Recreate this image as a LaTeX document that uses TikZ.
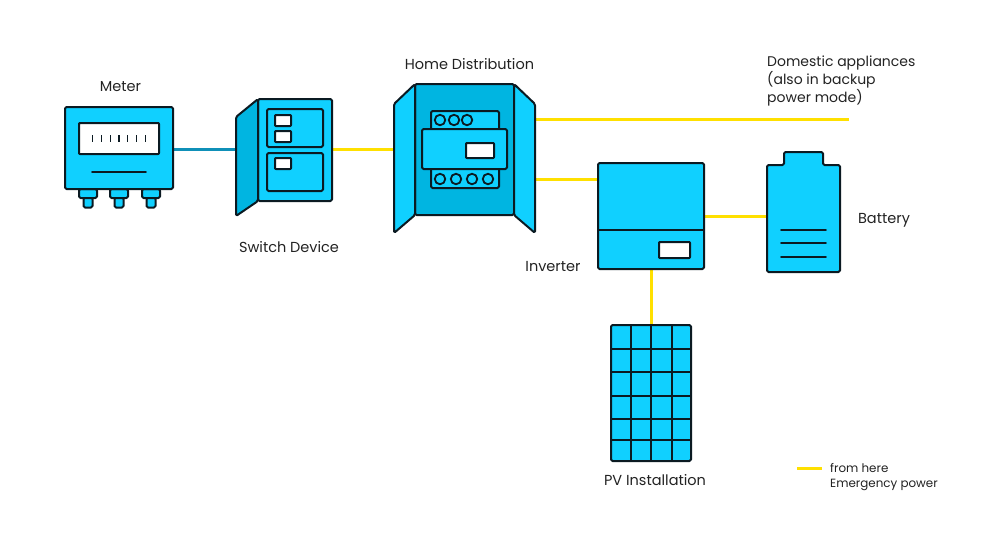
\documentclass[tikz,border=0pt]{standalone}
\usepackage{fontspec}
\setmainfont{Poppins}
\usetikzlibrary{backgrounds}
\definecolor{cy}{HTML}{10D0FF}
\definecolor{cydark}{HTML}{00B5E1}
\definecolor{wire}{HTML}{FFE000}
\definecolor{wireblue}{HTML}{0F90B8}
\definecolor{ink}{HTML}{0B1A22}
\definecolor{txt}{HTML}{222222}
\tikzset{
  shapeline/.style={draw=ink,line width=2pt,line join=round,rounded corners=1.5pt},
  box/.style={shapeline,fill=cy,rectangle,inner sep=0pt,outer sep=0pt},
  darkbox/.style={box,fill=cydark},
  whitebox/.style={box,fill=white,rounded corners=0.8pt},
  door/.style={shapeline,fill=cy},
  stroke/.style={draw=ink,line width=1.6pt,line cap=round},
  knob/.style={draw=ink,line width=1.8pt,fill=cy,circle,inner sep=0pt,outer sep=0pt,minimum size=10.5pt},
  yellowwire/.style={draw=wire,line width=3pt},
  bluewire/.style={draw=wireblue,line width=3pt},
  label/.style={text=txt,font=\fontsize{14.5}{18}\selectfont,inner sep=0pt,align=left},
  domlabel/.style={label,font=\fontsize{14}{18}\selectfont},
  small/.style={text=txt,font=\fontsize{11.9}{15}\selectfont,inner sep=0pt,align=left},
  wh/.style 2 args={minimum width=#1pt,minimum height=#2pt}
}
\begin{document}
\begin{tikzpicture}[x=1pt,y=-1pt]
\useasboundingbox (0,0) rectangle (1000,542);
% Meter
\foreach \c/\n in {88/a,119/b,151/c}{
  \node[box,wh={9}{10}] (footl\n) at (\c,202.5) {};
  \node[box,wh={18}{9}] (footu\n) at (\c,193.5) {};
}
\node[box,wh={108}{82}] (meter) at (119,148) {};
\node[whitebox,wh={80}{31}] (meterwin) at (119,138.5) {};
\foreach \x in {92.3,101.3,110.3,119,127.7,136.7,145.7}
  \draw[stroke,line width=1.2pt,line cap=butt] (\x,135) -- (\x,142);
\draw[stroke] (92,172) -- (146,172);
% Switch device
\node[box,wh={74}{102}] (switch) at (295,150) {};
\coordinate (sd1) at (258,99);
\coordinate (sd2) at (236,117);
\coordinate (sd3) at (236,216);
\coordinate (sd4) at (258,201);
\draw[door,fill=cydark] (sd1) -- (sd2) -- (sd3) -- (sd4) -- cycle;
\node[box,wh={56}{38}] (swup) at (295,128) {};
\node[box,wh={56}{38}] (swlow) at (295,172) {};
\node[whitebox,wh={16}{11}] (sw1) at (283,120.5) {};
\node[whitebox,wh={16}{11}] (sw2) at (283,136.5) {};
\node[whitebox,wh={16}{11}] (sw3) at (283,163.5) {};
% Home distribution
\node[darkbox,wh={99}{131}] (home) at (464.5,149.5) {};
\coordinate (hl1) at (415,84);
\coordinate (hl2) at (394,104);
\coordinate (hl3) at (394,233);
\coordinate (hl4) at (415,215);
\coordinate (hr1) at (514,84);
\coordinate (hr2) at (535,104);
\coordinate (hr3) at (535,233);
\coordinate (hr4) at (514,215);
\draw[door] (hl1) -- (hl2) -- (hl3) -- (hl4) -- cycle;
\draw[door] (hr1) -- (hr2) -- (hr3) -- (hr4) -- cycle;
\node[box,wh={68}{77}] (modback) at (465,149.5) {};
\node[box,wh={85}{40}] (modmid) at (464.5,149) {};
\node[whitebox,wh={28}{15}] (modwin) at (480,150.5) {};
\foreach \x/\n in {440/a,454/b,467/c}
  \node[knob] (kt\n) at (\x,120) {};
\foreach \x/\n in {440/a,456/b,472/c,488/d}
  \node[knob] (kb\n) at (\x,179) {};
% Inverter
\node[box,wh={106}{106}] (inverter) at (651,216) {};
\coordinate (invl) at (598,230);
\coordinate (invr) at (704,230);
\draw[stroke,line width=1.8pt,line cap=butt] (invl) -- (invr);
\node[whitebox,wh={31}{16}] (invwin) at (674.5,250) {};
% Battery
\coordinate (battwest) at (767,216);
\draw[shapeline,fill=cy] (767,165) -- (784,165) -- (784,152) -- (823,152) -- (823,165) -- (840,165) -- (840,272) -- (767,272) -- cycle;
\foreach \y in {230,243,257}
  \draw[stroke] (781,\y) -- (826,\y);
% PV
\node[box,wh={80}{136}] (pv) at (651,393) {};
\foreach \x in {631,651,672}
  \draw[stroke,line width=1.8pt,line cap=butt] (\x,325) -- (\x,461);
\foreach \y in {349,372,396,419,440}
  \draw[stroke,line width=1.8pt,line cap=butt] (611,\y) -- (691,\y);
% Connectors
\coordinate (appl) at (849,119);
\coordinate (legA) at (797,468);
\coordinate (legB) at (822,468);
\begin{scope}[on background layer]
\draw[bluewire] (meter.east |- 0,149) -- (sd2 |- 0,149);
\draw[yellowwire] (switch.east |- 0,149) -- (hl2 |- 0,149);
\draw[yellowwire] (hr2 |- appl) -- (appl);
\draw[yellowwire] (hr2 |- 0,179) -- (inverter.west |- 0,179);
\draw[yellowwire] (inverter.east |- battwest) -- (battwest);
\draw[yellowwire] (inverter.south) -- (pv.north);
\end{scope}
\draw[yellowwire] (legA) -- (legB);
% Labels
\node[label] (tmeter) at (120.5,87) {Meter};
\node[label] (tswitch) at (289,247) {Switch Device};
\node[label] (thome) at (469.5,64) {Home Distribution};
\node[domlabel,anchor=north west] (tdom) at (767,55.5) {Domestic appliances\\(also in backup\\power mode)};
\node[label] (tbatt) at (884,220) {Battery};
\node[label] (tinv) at (553,266.5) {Inverter};
\node[label] (tpv) at (655,480) {PV Installation};
\node[small,anchor=north west] (tleg) at (830,463.5) {from here\\Emergency power};
\end{tikzpicture}
\end{document}
